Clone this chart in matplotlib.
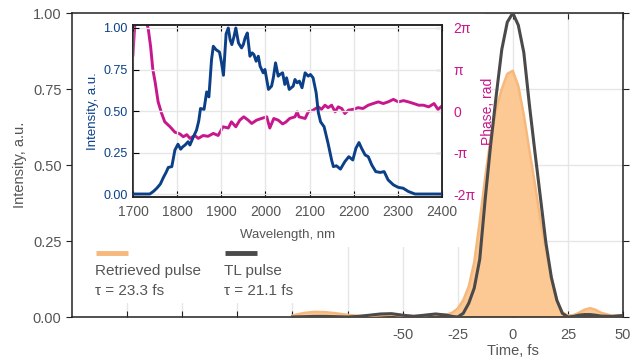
#!/usr/bin/env python3

import numpy as np
import matplotlib.pyplot as plt
from matplotlib.patches import Rectangle

# temporal profiles (fs, a.u.)
time_fs = [-100, -95, -90, -85, -80, -75, -70, -65, -60, -55, -50, -45, -40,
           -35, -30, -27.5, -25, -22.5, -20, -17.5, -15, -12.5, -10, -7.5, -5,
           -2.5, 0, 2.5, 5, 7.5, 10, 12.5, 15, 17.5, 20, 22.5, 25, 27.5, 30,
           32.5, 35, 37.5, 40, 45, 50]
retrieved = [0.005, 0.013, 0.017, 0.016, 0.012, 0.007, 0.004, 0.004, 0.006,
             0.008, 0.005, 0.004, 0.006, 0.009, 0.008, 0.014, 0.028, 0.055,
             0.10, 0.18, 0.315, 0.46, 0.59, 0.685, 0.75, 0.80, 0.81, 0.76,
             0.665, 0.55, 0.44, 0.32, 0.225, 0.13, 0.055, 0.015, 0.005, 0.006,
             0.014, 0.024, 0.029, 0.024, 0.014, 0.004, 0.006]
tl_pulse = [0.0, 0.001, 0.002, 0.002, 0.001, 0.0, 0.002, 0.006, 0.010, 0.011,
            0.006, 0.002, 0.006, 0.010, 0.006, 0.002, 0.0, 0.012, 0.045, 0.095,
            0.19, 0.39, 0.57, 0.73, 0.88, 0.97, 1.0, 0.96, 0.87, 0.70, 0.545,
            0.395, 0.245, 0.13, 0.055, 0.012, 0.0, 0.002, 0.006, 0.008, 0.008,
            0.006, 0.003, 0.002, 0.005]

# spectrum (nm, a.u.)
spec_wl = [1700, 1720, 1738, 1746, 1754, 1762, 1769, 1775, 1780, 1788, 1795,
           1802, 1808, 1813, 1818, 1825, 1829, 1837, 1844, 1849, 1853, 1861,
           1867, 1872, 1878, 1882, 1888, 1896, 1900, 1905, 1911, 1916, 1920,
           1924, 1929, 1933, 1939, 1946, 1950, 1954, 1959, 1965, 1970, 1974,
           1979, 1984, 1988, 1995, 1999, 2007, 2014, 2018, 2023, 2029, 2033,
           2039, 2044, 2048, 2054, 2063, 2067, 2072, 2077, 2083, 2090, 2097,
           2102, 2108, 2115, 2120, 2125, 2133, 2142, 2150, 2154, 2161, 2170,
           2180, 2189, 2198, 2205, 2212, 2218, 2226, 2233, 2241, 2250, 2260,
           2269, 2278, 2290, 2301, 2312, 2324, 2339, 2358, 2380, 2400]
spec_int = [0.0, 0.0, 0.0, 0.015, 0.035, 0.06, 0.10, 0.13, 0.16, 0.165, 0.265,
            0.30, 0.27, 0.285, 0.295, 0.315, 0.295, 0.345, 0.385, 0.44, 0.515,
            0.51, 0.615, 0.585, 0.81, 0.89, 0.87, 0.855, 0.80, 0.715, 0.965,
            1.0, 0.93, 0.90, 0.95, 1.0, 0.91, 0.88, 0.90, 0.94, 0.97, 0.83,
            0.85, 0.84, 0.80, 0.83, 0.77, 0.73, 0.75, 0.63, 0.65, 0.70, 0.79,
            0.71, 0.72, 0.73, 0.66, 0.70, 0.63, 0.65, 0.69, 0.67, 0.68, 0.64,
            0.73, 0.71, 0.72, 0.70, 0.61, 0.49, 0.435, 0.405, 0.305, 0.205,
            0.165, 0.17, 0.15, 0.195, 0.225, 0.205, 0.275, 0.31, 0.275, 0.235,
            0.225, 0.175, 0.135, 0.13, 0.135, 0.085, 0.055, 0.04, 0.035,
            0.015, 0.0, 0.0, 0.0, 0.0]

# spectral phase (nm, units of pi)
phase_wl = [1700, 1703, 1706, 1712, 1720, 1728, 1735, 1740, 1745, 1750, 1757,
            1765, 1772, 1784, 1795, 1806, 1814, 1822, 1829, 1840, 1848, 1859,
            1870, 1882, 1893, 1904, 1916, 1923, 1933, 1942, 1951, 1961, 1969,
            1980, 1991, 2003, 2010, 2019, 2029, 2039, 2046, 2055, 2067, 2072,
            2076, 2090, 2097, 2108, 2120, 2127, 2135, 2142, 2150, 2158, 2165,
            2173, 2180, 2188, 2199, 2210, 2221, 2233, 2244, 2256, 2267, 2278,
            2290, 2301, 2313, 2324, 2336, 2347, 2358, 2370, 2382, 2391, 2400]
phase_pi = [1.35, 1.9, 2.3, 2.5, 2.5, 2.3, 1.95, 1.55, 1.0, 0.71, 0.22, -0.06,
            -0.26, -0.38, -0.51, -0.55, -0.62, -0.57, -0.66, -0.59, -0.66,
            -0.59, -0.61, -0.54, -0.59, -0.38, -0.41, -0.26, -0.38, -0.22,
            -0.14, -0.22, -0.30, -0.22, -0.18, -0.14, -0.41, -0.18, -0.22,
            -0.31, -0.27, -0.18, -0.14, -0.02, -0.14, -0.18, -0.02, 0.02, 0.10,
            0.04, 0.14, 0.08, 0.14, -0.02, 0.10, 0.06, -0.06, 0.02, 0.04, 0.08,
            0.06, 0.14, 0.18, 0.22, 0.18, 0.22, 0.28, 0.22, 0.25, 0.22, 0.18,
            0.14, 0.14, 0.10, 0.18, 0.04, 0.12]

time_ticks = [-175, -150, -125, -100, -75, -50, -25, 0, 25, 50]
time_labels = ['', '', '', '', '', '-50', '-25', '0', '25', '50']
phase_ticks = [-2, -1, 0, 1, 2]
phase_labels = ['-2π', '-π', '0', 'π', '2π']

ORANGE_FILL = '#fcc893'
ORANGE_LINE = '#f7b87c'
DARK = '#4a4a4a'
BLUE = '#0b4088'
MAGENTA = '#c8178c'
GRAY = '#555555'
GRID = '#e6e6e6'

plt.rcParams['font.family'] = ['Liberation Sans', 'DejaVu Sans']
plt.rcParams['axes.unicode_minus'] = False


def main():
    fig = plt.figure(figsize=(6.35, 3.63), dpi=100)
    ax = fig.add_axes([0.1134, 0.1267, 0.8677, 0.8374])

    ax.set_axisbelow(True)
    ax.grid(True, color=GRID, linewidth=1)
    ax.fill_between(time_fs, retrieved, 0, color=ORANGE_FILL, linewidth=0, zorder=2)
    ax.plot(time_fs, retrieved, color=ORANGE_LINE, linewidth=1.8, zorder=3)
    ax.plot(time_fs, tl_pulse, color=DARK, linewidth=2.2, zorder=4)

    # white areas hiding the grid behind inset and legend
    ax.add_patch(Rectangle((0, 0.23), 0.75, 0.77, transform=ax.transAxes,
                           facecolor='white', edgecolor='none', zorder=1))
    ax.add_patch(Rectangle((0, 0.046), 0.414, 0.19, transform=ax.transAxes,
                           facecolor='white', edgecolor='none', zorder=1))

    ax.set_xlim(-200, 50)
    ax.set_ylim(0, 1.0)
    ax.set_xticks(time_ticks)
    ax.set_xticklabels(time_labels)
    ax.set_yticks([0, 0.25, 0.5, 0.75, 1.0])
    ax.set_yticklabels(['0.00', '0.25', '0.50', '0.75', '1.00'])
    ax.tick_params(axis='both', labelsize=10.5, labelcolor=GRAY, color='#222222',
                   direction='in', length=4, top=True, right=True)
    ax.tick_params(axis='x', pad=8)
    ax.tick_params(axis='y', which='both', left=True, direction='out')
    ax.tick_params(axis='y', right=True)
    for s in ax.spines.values():
        s.set_color('#222222')
        s.set_linewidth(1.1)
    ax.set_xlabel('Time, fs', fontsize=10.5, color=GRAY)
    ax.xaxis.set_label_coords(0.8, -0.088)
    ax.set_ylabel('Intensity, a.u.', fontsize=10.5, color=GRAY, labelpad=4)

    # legend drawn as text blocks
    ax.plot([0.044, 0.102], [0.21, 0.21], transform=ax.transAxes,
            color=ORANGE_LINE, linewidth=3.5, solid_capstyle='butt', zorder=5)
    ax.text(0.042, 0.176, 'Retrieved pulse\nτ = 23.3 fs', transform=ax.transAxes,
            fontsize=11, color=GRAY, va='top', ha='left', linespacing=1.55, zorder=5)
    ax.plot([0.278, 0.336], [0.21, 0.21], transform=ax.transAxes,
            color=DARK, linewidth=3.5, solid_capstyle='butt', zorder=5)
    ax.text(0.276, 0.176, 'TL pulse\nτ = 21.1 fs', transform=ax.transAxes,
            fontsize=11, color=GRAY, va='top', ha='left', linespacing=1.55, zorder=5)

    # inset: spectrum and phase
    ins = fig.add_axes([0.2094, 0.4573, 0.4866, 0.4738])
    ins.grid(True, color=GRID, linewidth=1)
    ins.set_axisbelow(True)
    ins.plot(spec_wl, spec_int, color=BLUE, linewidth=2.1, zorder=3)
    ins.set_xlim(1700, 2400)
    ins.set_ylim(-0.018, 1.018)
    ins.set_xticks([1700, 1800, 1900, 2000, 2100, 2200, 2300, 2400])
    ins.set_yticks([0, 0.25, 0.5, 0.75, 1.0])
    ins.set_yticklabels(['0.00', '0.25', '0.50', '0.75', '1.00'])
    ins.tick_params(axis='x', labelsize=10, labelcolor=GRAY, direction='in',
                    length=4, top=True, pad=6)
    ins.tick_params(axis='y', labelsize=9, labelcolor=BLUE, direction='in',
                    length=4, pad=4)
    ins.set_xlabel('Wavelength, nm', fontsize=9.5, color=GRAY, labelpad=7)
    ins.set_ylabel('Intensity, a.u.', fontsize=9.5, color=BLUE, labelpad=3)
    for s in ins.spines.values():
        s.set_color('#222222')
        s.set_linewidth(1.1)

    ph = ins.twinx()
    ph.plot(phase_wl, np.array(phase_pi), color=MAGENTA, linewidth=2.1, zorder=2)
    ph.set_ylim(-2 * 1.036, 2 * 1.036)
    ph.set_yticks(phase_ticks)
    ph.set_yticklabels(phase_labels)
    ph.tick_params(axis='y', labelsize=10, labelcolor=MAGENTA, direction='in',
                   length=4, pad=8)
    ph.set_ylabel('Phase, rad', fontsize=10, color=MAGENTA, labelpad=4)
    for s in ph.spines.values():
        s.set_color('#222222')
        s.set_linewidth(1.1)
    ins.set_zorder(ph.get_zorder() + 1)
    ins.patch.set_visible(False)
    ph.patch.set_visible(True)
    ph.patch.set_facecolor('white')

    fig.savefig('out.png', dpi=100)


if __name__ == '__main__':
    main()
